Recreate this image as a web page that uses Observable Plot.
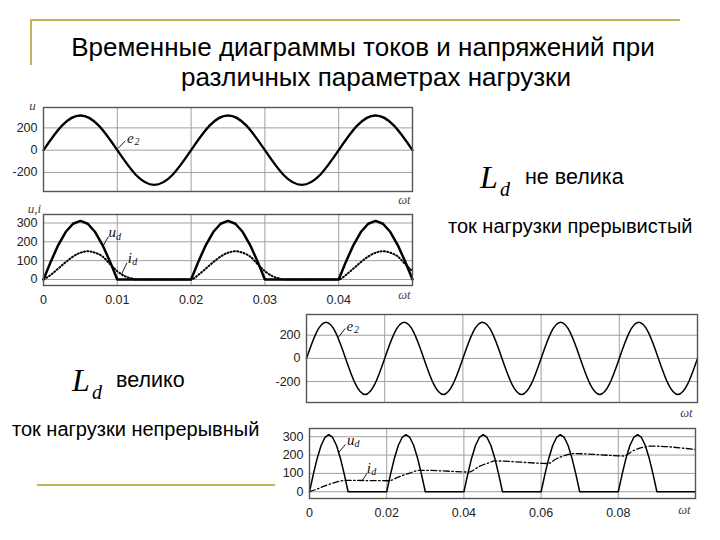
<!DOCTYPE html>
<html><head><meta charset="utf-8">
<script src="https://cdn.jsdelivr.net/npm/d3@7"></script>
<script src="https://cdn.jsdelivr.net/npm/@observablehq/plot@0.6"></script>
<style>
body{margin:0;background:#fff;}
#page{position:relative;width:720px;height:540px;overflow:hidden;background:#fff;font-family:"Liberation Sans",Arial,sans-serif;color:#000;}
.abs{position:absolute;white-space:nowrap;line-height:1;}
.gold{position:absolute;background:#c6b25a;}
.serif{font-family:"Liberation Serif","Times New Roman",serif;font-style:italic;}
svg{overflow:visible;}
</style></head><body><div id="page"></div>
<script>
// ---------- data ----------
// e2, upper figure: t = 0 .. 0.05 s, step 0.0025 s
const e2TopValues = [0,220,311,220,0,-220,-311,-220, 0,220,311,220,0,-220,-311,-220, 0,220,311,220,0];
// ud, upper figure: t = 0 .. 0.05 s, step 0.001 s
const udTopValues = [0,96,183,252,296,311,296,252,183,96,0,
  0,0,0,0,0,0,0,0,0,0,
  96,183,252,296,311,296,252,183,96,0,
  0,0,0,0,0,0,0,0,0,0,
  96,183,252,296,311,296,252,183,96,0];
// id, upper figure (discontinuous current)
const idTopTime = [0,0.001,0.002,0.003,0.004,0.005,0.006,0.007,0.008,0.009,0.010,0.011,0.012,0.0125,0.02,
  0.021,0.022,0.023,0.024,0.025,0.026,0.027,0.028,0.029,0.030,0.031,0.032,0.0325,0.04,
  0.041,0.042,0.043,0.044,0.045,0.046,0.047,0.048,0.049,0.050];
const idTopValues = [0,25,58,92,122,142,150,142,122,82,44,18,5,0,0,
  25,58,92,122,142,150,142,122,82,44,18,5,0,0,
  25,58,92,122,142,150,142,122,82,44];
// e2, lower figure: t = 0 .. 0.1 s, step 0.0025 s
const e2BottomValues = [0,220,311,220,0,-220,-311,-220, 0,220,311,220,0,-220,-311,-220,
  0,220,311,220,0,-220,-311,-220, 0,220,311,220,0,-220,-311,-220,
  0,220,311,220,0,-220,-311,-220, 0];
// ud, lower figure: t = 0 .. 0.1 s, step 0.001 s
const udBottomValues = [0,96,183,252,296,311,296,252,183,96,0,
  0,0,0,0,0,0,0,0,0,0,
  96,183,252,296,311,296,252,183,96,0,
  0,0,0,0,0,0,0,0,0,0,
  96,183,252,296,311,296,252,183,96,0,
  0,0,0,0,0,0,0,0,0,0,
  96,183,252,296,311,296,252,183,96,0,
  0,0,0,0,0,0,0,0,0,0,
  96,183,252,296,311,296,252,183,96,0,
  0,0,0,0,0,0,0,0,0,0];
// id, lower figure (continuous current)
const idBottomTime = [0,0.002,0.004,0.006,0.008,0.0095,0.02,
  0.0206,0.023,0.026,0.0285,0.04,
  0.0412,0.044,0.0465,0.048,0.06,
  0.0617,0.064,0.0665,0.0685,0.08,
  0.0814,0.084,0.0865,0.0885,0.1];
const idBottomValues = [0,15,32,47,58,62,60,
  60,80,102,117,108,
  107,138,158,168,155,
  154,180,200,208,196,
  195,225,243,249,230];
// ticks
const gridTopX = [0,0.01,0.02,0.03,0.04,0.05];
const xTickTop = [0,0.01,0.02,0.03,0.04];
const xTickTopLabels = ["0","0.01","0.02","0.03","0.04"];
const gridBottomX = [0,0.02,0.04,0.06,0.08,0.1];
const xTickBottom = [0,0.02,0.04,0.06,0.08];
const xTickBottomLabels = ["0","0.02","0.04","0.06","0.08"];
const eTicks = [-200,0,200];
const eTickLabels = ["-200","0","200"];
const uiTicks = [0,100,200,300];
const uiTickLabels = ["0","100","200","300"];

// ---------- helpers ----------
const step = (n, dt) => d3.range(n).map(i => +(i*dt).toFixed(5));
const rows = (ts, vs) => ts.map((t,i) => ({t, v: vs[i]}));
const tickFont = "Liberation Sans, Arial, sans-serif";
const serif = "Liberation Serif, Times New Roman, serif";

function label(x, y, main, sub, link) {
  const m = [];
  const subDx = main === "i" ? 4.5 : 7.5;
  if (link) m.push(Plot.link([link], {x1: d=>d[0], y1: d=>d[1], x2: d=>d[2], y2: d=>d[3], stroke:"#000", strokeWidth:0.9}));
  m.push(Plot.text([main], {x: ()=>x, y: ()=>y, text: d=>d, fontFamily: serif, fontStyle:"italic", fontSize:15, textAnchor:"start", fill:"#111"}));
  m.push(Plot.text([sub], {x: ()=>x, y: ()=>y, text: d=>d, fontFamily: serif, fontStyle:"italic", fontSize:10, textAnchor:"start", dx: subDx, dy: 4, fill:"#111"}));
  return m;
}

function panel(o) {
  const marks = [
    Plot.gridX(o.gridX, {stroke:"#a0a0a0", strokeOpacity:1, strokeWidth:1}),
    Plot.gridY(o.yTicks, {stroke:"#a0a0a0", strokeOpacity:1, strokeWidth:1}),
    ...o.marks,
    Plot.frame({stroke:"#555", strokeWidth:1.4}),
    Plot.axisY(o.yTicks, {tickSize:0, tickPadding:6, fontSize:12.5, fontFamily:tickFont, fill:"#222", label:null, tickFormat:(d,i)=>o.yLabels[i]}),
    Plot.text(["ωt"], {frameAnchor:"bottom-right", text:d=>d, dx:o.wdx, dy:o.wdy, fontFamily:serif, fontStyle:"italic", fontSize:12.5, fill:"#444", textAnchor:"end", lineAnchor:"middle"})
  ];
  if (o.xTicks) marks.push(Plot.axisX(o.xTicks, {tickSize:0, tickPadding:10, fontSize:12.5, fontFamily:tickFont, fill:"#222", label:null, tickFormat:(d,i)=>o.xLabels[i]}));
  if (o.axisLabel) marks.push(Plot.text([o.axisLabel], {frameAnchor:"top-left", text:d=>d, dx:o.adx, dy:o.ady, fontFamily:serif, fontStyle:"italic", fontSize:13, fill:"#444", textAnchor:"middle", lineAnchor:"middle"}));
  const p = Plot.plot({
    width:o.width, height:o.height,
    marginTop:o.mt, marginRight:o.mr, marginBottom:o.mb, marginLeft:o.ml,
    x:{domain:o.xDomain, axis:null},
    y:{domain:o.yDomain, axis:null},
    style:{background:"transparent", overflow:"visible"},
    marks
  });
  p.style.position = "absolute";
  p.style.left = o.left + "px";
  p.style.top = o.top + "px";
  return p;
}

const page = document.getElementById("page");

// ---------- upper figure ----------
page.appendChild(panel({
  left:0, top:95, width:420, height:106, mt:12, mr:8, mb:10, ml:43,
  xDomain:[0,0.05], yDomain:[-371,383], gridX:gridTopX, yTicks:eTicks, yLabels:eTickLabels,
  wdx:-2, wdy:8, axisLabel:"u", adx:-11, ady:-2,
  marks:[
    Plot.line(rows(step(e2TopValues.length,0.0025), e2TopValues), {x:"t", y:"v", curve:"natural", stroke:"#000", strokeWidth:2.3}),
    ...label(0.0113, 110, "e", "2", [0.0101, 15, 0.0111, 85])
  ]
}));

page.appendChild(panel({
  left:0, top:200, width:420, height:115, mt:14, mr:8, mb:30, ml:43,
  xDomain:[0,0.05], yDomain:[-32,345], gridX:gridTopX, yTicks:uiTicks, yLabels:uiTickLabels,
  xTicks:xTickTop, xLabels:xTickTopLabels,
  wdx:-2, wdy:9, axisLabel:"u,i", adx:-9, ady:-6,
  marks:[
    Plot.line(rows(step(udTopValues.length,0.001), udTopValues), {x:"t", y:"v", stroke:"#000", strokeWidth:2.5, strokeLinejoin:"round"}),
    Plot.line(rows(idTopTime, idTopValues), {x:"t", y:"v", curve:"monotone-x", stroke:"#000", strokeWidth:2, strokeDasharray:"1,2.3"}),
    ...label(0.0088, 250, "u", "d", [0.0081, 180, 0.0088, 228]),
    ...label(0.0114, 115, "i", "d", [0.0106, 30, 0.0113, 88])
  ]
}));

// ---------- lower figure ----------
page.appendChild(panel({
  left:260, top:300, width:460, height:120, mt:14, mr:23, mb:18, ml:46,
  xDomain:[0,0.1], yDomain:[-381,379], gridX:gridBottomX, yTicks:eTicks, yLabels:eTickLabels,
  wdx:-5, wdy:10,
  marks:[
    Plot.line(rows(step(e2BottomValues.length,0.0025), e2BottomValues), {x:"t", y:"v", curve:"natural", stroke:"#000", strokeWidth:1.5}),
    ...label(0.0102, 280, "e", "2", [0.0082, 185, 0.0099, 258])
  ]
}));

page.appendChild(panel({
  left:260, top:415, width:460, height:125, mt:13, mr:25, mb:42, ml:49,
  xDomain:[0,0.1], yDomain:[-37,345], gridX:gridBottomX, yTicks:uiTicks, yLabels:uiTickLabels,
  xTicks:xTickBottom, xLabels:xTickBottomLabels,
  wdx:-5, wdy:11,
  marks:[
    Plot.line(rows(step(udBottomValues.length,0.001), udBottomValues), {x:"t", y:"v", stroke:"#000", strokeWidth:1.5, strokeLinejoin:"round"}),
    Plot.line(rows(idBottomTime, idBottomValues), {x:"t", y:"v", curve:"monotone-x", stroke:"#000", strokeWidth:1.3, strokeDasharray:"6,2.5,1.5,2.5"}),
    ...label(0.0097, 282, "u", "d", [0.0075, 212, 0.0093, 258]),
    ...label(0.0148, 130, "i", "d", [0.0137, 62, 0.0149, 100])
  ]
}));

// ---------- slide decorations and texts ----------
function add(html, cls, css) {
  const d = document.createElement("div");
  d.className = cls; d.innerHTML = html; Object.assign(d.style, css);
  page.appendChild(d); return d;
}
add("", "gold", {left:"30px", top:"19px", width:"650px", height:"2px"});
add("", "gold", {left:"30px", top:"19px", width:"2px", height:"46px"});
add("", "gold", {left:"37px", top:"484px", width:"238px", height:"2px"});

add("Временные диаграммы токов и напряжений при", "abs", {left:"363px", top:"34px", fontSize:"26px", transform:"translateX(-50%)"});
add("различных параметрах нагрузки", "abs", {left:"376px", top:"64px", fontSize:"26px", transform:"translateX(-50%)"});

add("L", "abs serif", {left:"480px", top:"161px", fontSize:"32px"});
add("d", "abs serif", {left:"500px", top:"179px", fontSize:"20px"});
add("не велика", "abs", {left:"525px", top:"167px", fontSize:"21.5px"});
add("ток нагрузки прерывистый", "abs", {left:"448px", top:"216px", fontSize:"20px"});

add("L", "abs serif", {left:"72px", top:"364px", fontSize:"32px"});
add("d", "abs serif", {left:"92px", top:"382px", fontSize:"20px"});
add("велико", "abs", {left:"116px", top:"370px", fontSize:"21.5px"});
add("ток нагрузки непрерывный", "abs", {left:"12px", top:"419px", fontSize:"20px"});
</script>
</body></html>
